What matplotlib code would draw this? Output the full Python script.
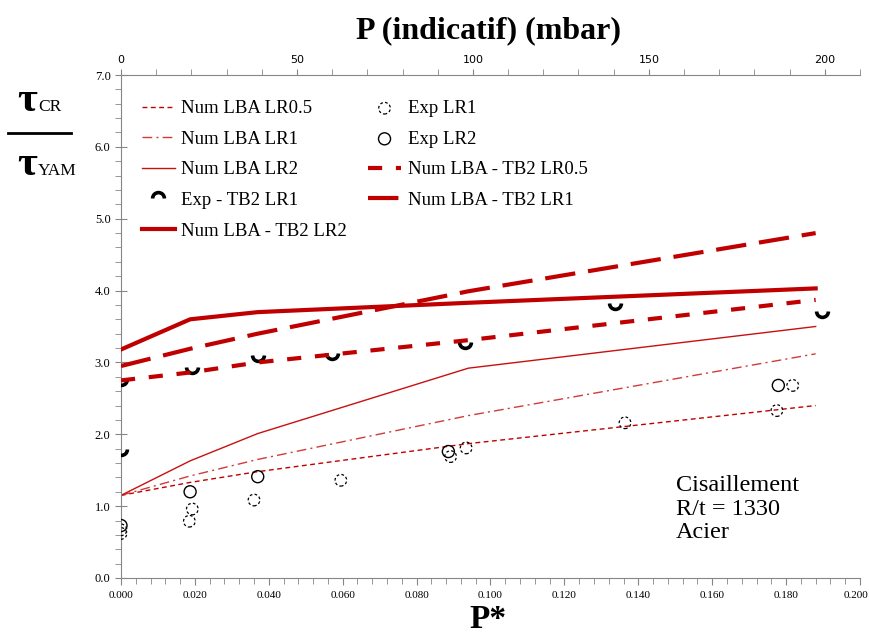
import matplotlib
matplotlib.use("Agg")
import matplotlib.pyplot as plt
from matplotlib.lines import Line2D
from matplotlib.path import Path
from matplotlib.ticker import (MultipleLocator, FixedLocator,
                               FormatStrFormatter, FuncFormatter)

# P* positions of the numerical LBA results
p_num = [0.0, 0.0187, 0.037, 0.094, 0.188]
num_lr05 = [1.15, 1.33, 1.48, 1.87, 2.40]
num_lr1 = [1.15, 1.42, 1.65, 2.26, 3.12]
num_lr2 = [1.15, 1.63, 2.01, 2.92, 3.50]
tb2_lr05 = [2.75, 2.86, 3.00, 3.31, 3.87]
tb2_lr1 = [2.95, 3.19, 3.40, 3.99, 4.80]
tb2_lr2 = [3.18, 3.60, 3.70, 3.83, 4.03]

# experimental points
exp_lr1_p = [0.0, 0.0, 0.0185, 0.0193, 0.036, 0.0595, 0.0892, 0.0934,
             0.1364, 0.1775, 0.1818]
exp_lr1 = [0.62, 0.67, 0.79, 0.96, 1.085, 1.36, 1.69, 1.81, 2.16, 2.33, 2.68]
exp_lr2_p = [0.0, 0.0187, 0.037, 0.0886, 0.1779]
exp_lr2 = [0.73, 1.20, 1.41, 1.76, 2.68]
exp_tb2_p = [0.0, 0.0, 0.0191, 0.0372, 0.057, 0.0931, 0.1337, 0.1898]
exp_tb2 = [2.77, 1.79, 2.94, 3.11, 3.13, 3.29, 3.83, 3.72]

mbar_ticks = [0, 50, 100, 150, 200]
P_MAX = 0.2
MBAR_PER_P = 1050.0   # P (mbar) ~ P* x 1050 (indicative)

RED = "#C00000"
GRAY = "#868686"
SERIF = "Liberation Serif"

plt.rcParams.update({"font.family": SERIF, "font.size": 9})

ARC_DOWN = Path.arc(180, 360)
ARC_UP = Path.arc(0, 180)


def p_label(x, pos):
    # the last label is drawn separately, right-aligned on the figure edge
    return "" if abs(x - P_MAX) < 1e-9 else f"{x:.3f}"


def main():
    fig = plt.figure(figsize=(8.7, 6.34), dpi=100)
    ax = fig.add_axes([121 / 870, 1 - 578 / 634, 739 / 870, 503 / 634])

    # thin numerical curves
    ax.plot(p_num, num_lr05, color=RED, lw=1.0, ls=(0, (3.5, 2.5)), zorder=2,
            label="Num LBA LR0.5")
    ax.plot(p_num, num_lr1, color="#D23A3A", lw=1.0,
            ls=(0, (7, 3, 1.5, 3)), zorder=2, label="Num LBA LR1")
    ax.plot(p_num, num_lr2, color="#C81010", lw=1.0, zorder=2,
            label="Num LBA LR2")

    # experimental points
    ax.scatter(exp_lr1_p, exp_lr1, s=70, facecolors="none", edgecolors="black",
               linewidths=0.9, linestyles=(0, (2.2, 1.8)), zorder=3,
               label="Exp LR1")
    ax.scatter(exp_lr2_p, exp_lr2, s=75, facecolors="none", edgecolors="black",
               linewidths=1.0, zorder=3, label="Exp LR2")
    ax.plot(exp_tb2_p, exp_tb2, ls="none", marker=ARC_DOWN, ms=8.5,
            mew=2.6, mec="black", mfc="none", zorder=3)

    # thick numerical curves (TB2)
    l05, = ax.plot(p_num, tb2_lr05, color=RED, lw=3.0, zorder=4,
                   label="Num LBA - TB2 LR0.5")
    l05.set_dashes([3.4, 3.3])
    l1, = ax.plot(p_num, tb2_lr1, color=RED, lw=3.0, zorder=4,
                  label="Num LBA - TB2 LR1")
    l1.set_dashes([7.3, 3.1])
    ax.plot(p_num, tb2_lr2, color=RED, lw=3.0, zorder=4,
            label="Num LBA - TB2 LR2")

    exp_tb2_proxy = Line2D([], [], ls="none", marker=ARC_UP, ms=8.5, mew=2.6,
                           mec="black", mfc="none", label="Exp - TB2 LR1")

    ax.set_xlim(0, P_MAX)
    ax.set_ylim(0, 7)
    ax.xaxis.set_major_locator(MultipleLocator(0.02))
    ax.xaxis.set_minor_locator(MultipleLocator(0.004))
    ax.xaxis.set_major_formatter(FuncFormatter(p_label))
    ax.yaxis.set_major_locator(MultipleLocator(1.0))
    ax.yaxis.set_minor_locator(MultipleLocator(0.2))
    ax.yaxis.set_major_formatter(FormatStrFormatter("%.1f"))

    for side in ("top", "right"):
        ax.spines[side].set_visible(False)
    for side in ("left", "bottom"):
        ax.spines[side].set_color(GRAY)
    ax.tick_params(axis="both", which="both", color=GRAY)
    ax.tick_params(axis="y", which="major", direction="inout", length=8,
                   labelsize=9)
    ax.tick_params(axis="y", which="minor", direction="out", length=4)
    ax.tick_params(axis="x", which="major", direction="out", length=5, pad=4,
                   labelsize=8)
    ax.tick_params(axis="x", which="minor", direction="out", length=4)
    ax.annotate(f"{P_MAX:.3f}", xy=(1, 0), xycoords="axes fraction",
                xytext=(6, -9), textcoords="offset points", ha="right",
                va="top", fontsize=8)

    sec = ax.secondary_xaxis("top", functions=(lambda x: x * MBAR_PER_P,
                                               lambda p: p / MBAR_PER_P))
    sec.xaxis.set_major_locator(FixedLocator(mbar_ticks))
    sec.xaxis.set_minor_locator(FixedLocator(list(range(0, 211, 10))))
    sec.spines["top"].set_color(GRAY)
    sec.tick_params(which="both", color=GRAY, direction="out", length=4,
                    labelsize=8, pad=3)
    for lab in sec.xaxis.get_ticklabels():
        lab.set_family(["Liberation Sans Narrow", "DejaVu Sans"])

    # legend, filled row by row like the original
    order_col1 = ["Num LBA LR0.5", "Num LBA LR1", "Num LBA LR2",
                  "Exp - TB2 LR1", "Num LBA - TB2 LR2"]
    order_col2 = ["Exp LR1", "Exp LR2", "Num LBA - TB2 LR0.5",
                  "Num LBA - TB2 LR1"]
    handles, labels = ax.get_legend_handles_labels()
    lookup = dict(zip(labels, handles))
    lookup["Exp - TB2 LR1"] = exp_tb2_proxy
    names = order_col1 + order_col2
    ax.legend([lookup[n] for n in names], names, ncol=2, frameon=False,
              loc="upper left", bbox_to_anchor=(142 / 870, 1 - 100 / 634),
              bbox_transform=fig.transFigure, fontsize=13.5,
              handlelength=1.75, handletextpad=0.35, columnspacing=1.12,
              labelspacing=0.72, borderpad=0, borderaxespad=0)

    ax.text(676 / 870, 1 - 475 / 634, "Cisaillement\nR/t = 1330\nAcier",
            transform=fig.transFigure, fontsize=17.5, va="top", ha="left",
            linespacing=1.17)

    fig.text(488 / 870, 1 - 31 / 634, "P (indicatif) (mbar)", fontsize=23,
             fontweight="bold", ha="center", va="center")
    fig.text(488 / 870, 1 - 619 / 634, "P*", fontsize=24, fontweight="bold",
             ha="center", va="center")

    # y label drawn as a fraction
    fig.text(17 / 870, 1 - 111 / 634, "τ", fontsize=31, fontweight="bold",
             ha="left", va="baseline")
    fig.text(38 / 870, 1 - 111 / 634, "CR", fontsize=12.5, ha="left",
             va="baseline")
    fig.add_artist(Line2D([8 / 870, 71 / 870], [1 - 133 / 634, 1 - 133 / 634],
                          transform=fig.transFigure, color="black", lw=2))
    fig.text(17 / 870, 1 - 175 / 634, "τ", fontsize=31, fontweight="bold",
             ha="left", va="baseline")
    fig.text(38 / 870, 1 - 175 / 634, "YAM", fontsize=12.5, ha="left",
             va="baseline")

    fig.savefig("out.png", dpi=100)


if __name__ == "__main__":
    main()
